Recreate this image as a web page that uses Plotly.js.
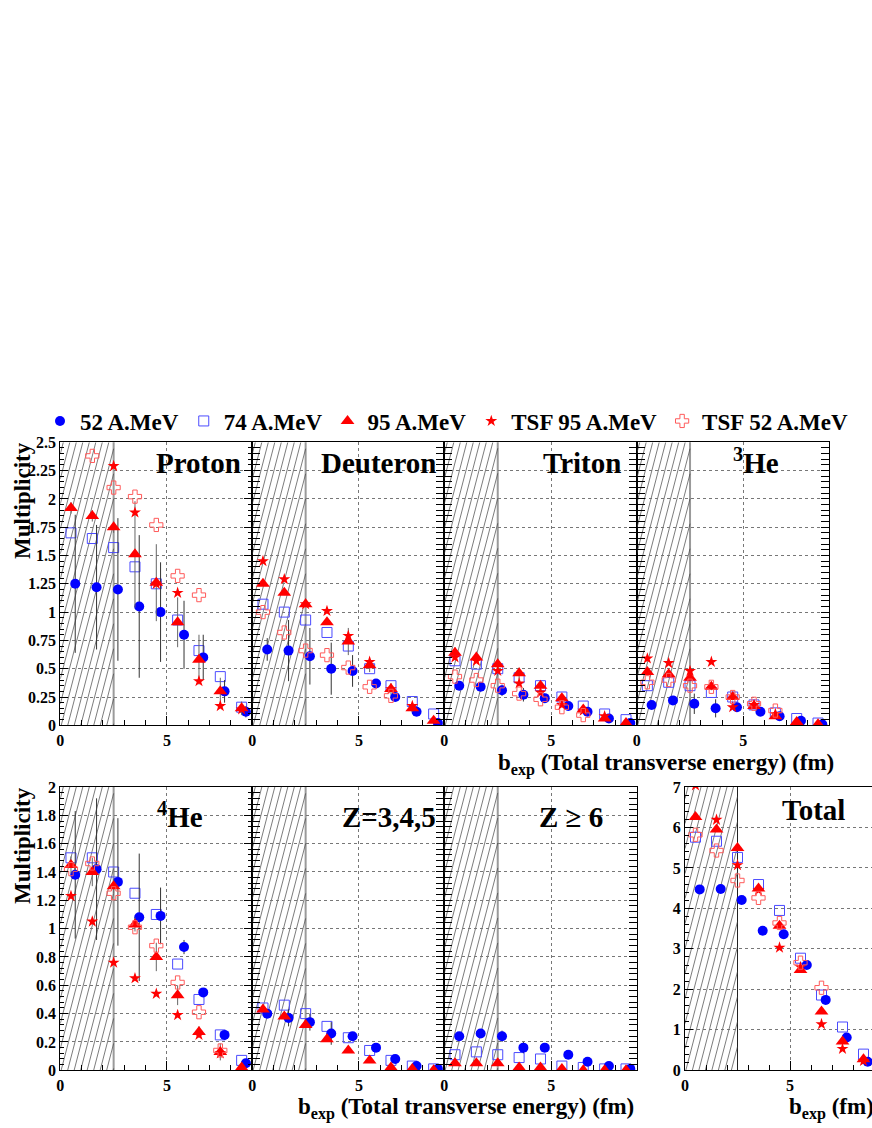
<!DOCTYPE html>
<html>
<head>
<meta charset="utf-8">
<script src="https://cdn.plot.ly/plotly-3.0.1.min.js"></script>
<style>html,body{margin:0;padding:0;background:#fff;}#chart{width:872px;height:1128px;}</style>
</head>
<body>
<div id="chart"></div>
<script>
// ---------------- DATA ----------------
const bins   = [0.5, 1.5, 2.5, 3.5, 4.5, 5.5, 6.5, 7.5, 8.5];
const bins52 = [0.7, 1.7, 2.7, 3.7, 4.7, 5.8, 6.7, 7.7, 8.7];

const seriesNames = ['52 A.MeV', '74 A.MeV', '95 A.MeV', 'TSF 95 A.MeV', 'TSF 52 A.MeV'];
const panelLabels = ['Proton', 'Deuteron', 'Triton', '<sup>3</sup>He', '<sup>4</sup>He', 'Z=3,4,5', 'Z \u2265 6', 'Total'];
const xTitle = 'b<sub>exp</sub> (Total transverse energy) (fm)';
const xTitleTotal = 'b<sub>exp</sub> (fm)';
const yTitle = 'Multiplicity';
const topTicks = [0, 5];

// Proton
const proton52    = [1.25, 1.22, 1.20, 1.05, 1.00, 0.80, 0.60, 0.30, 0.12];
const proton52err = [0.61, 0.55, 0.63, 0.63, 0.44, 0.30, 0.20, 0.10, 0.05];
const proton74    = [1.70, 1.65, 1.57, 1.40, 1.25, 0.93, 0.66, 0.43, 0.16];
const proton95    = [1.92, 1.85, 1.75, 1.51, 1.26, 0.91, 0.58, 0.30, 0.15];
const proton95err = [0.05, 0.05, 0.05, 0.47, 0.34, 0.22, 0.22, 0.12, 0.06];
const protonT95   = [null, null, 2.29, 1.88, 1.25, 1.17, 0.39, 0.17, 0.14];
const protonT52   = [null, 2.38, 2.10, 2.02, 1.77, 1.32, 1.15, null, null];
// Deuteron
const deut52      = [0.67, 0.66, 0.61, 0.50, 0.48, 0.37, 0.25, 0.12, 0.02];
const deut52err   = [0.10, 0.27, 0.25, 0.23, 0.14, 0.03, 0.02, 0.02, 0.01];
const deut74      = [1.07, 1.00, 0.93, 0.82, 0.70, 0.50, 0.35, 0.21, 0.10];
const deut95      = [1.25, 1.17, 1.07, 0.91, 0.74, 0.53, 0.32, 0.15, 0.04];
const deut95err   = [0.02, 0.02, 0.02, 0.02, 0.12, 0.06, 0.05, 0.03, 0.01];
const deutT95     = [1.45, 1.29, 1.07, 1.01, 0.79, 0.56, 0.32, 0.17, null];
const deutT52     = [1.00, 0.82, 0.66, 0.62, 0.51, 0.34, 0.26, null, null];
// Triton
const trit52      = [0.35, 0.34, 0.31, 0.27, 0.24, 0.17, 0.12, 0.06, 0.02];
const trit52err   = [0.04, 0.04, 0.05, 0.06, 0.04, 0.03, 0.02, 0.01, 0.01];
const trit74      = [0.57, 0.54, 0.50, 0.42, 0.35, 0.25, 0.17, 0.10, 0.05];
const trit95      = [0.64, 0.60, 0.54, 0.46, 0.35, 0.24, 0.14, 0.06, 0.02];
const trit95err   = [0.05, 0.05, 0.05, 0.05, 0.04, 0.03, 0.02, 0.01, 0.00];
const tritT95     = [0.60, 0.57, 0.48, 0.37, 0.29, 0.18, 0.13, 0.08, null];
const tritT52     = [0.43, 0.40, 0.35, 0.28, 0.23, 0.16, 0.09, null, null];
// 3He
const he3_52      = [0.18, 0.22, 0.19, 0.15, 0.16, 0.12, 0.08, 0.04, 0.01];
const he3_52err   = [0.03, 0.03, 0.09, 0.08, 0.04, 0.03, 0.02, 0.01, 0.01];
const he3_74      = [0.35, 0.38, 0.35, 0.29, 0.25, 0.18, 0.11, 0.06, 0.02];
const he3_95      = [0.47, 0.45, 0.42, 0.34, 0.25, 0.17, 0.08, 0.03, 0.01];
const he3_95err   = [0.03, 0.03, 0.03, 0.03, 0.03, 0.02, 0.02, 0.01, 0.00];
const he3_T95     = [0.59, 0.55, 0.48, 0.56, 0.16, 0.18, 0.10, null, null];
const he3_T52     = [0.38, 0.40, 0.35, 0.34, 0.25, 0.19, 0.13, null, null];
// 4He
const he4_52      = [1.38, 1.42, 1.33, 1.08, 1.09, 0.87, 0.55, 0.25, 0.05];
const he4_52err   = [0.45, 0.50, 0.45, 0.45, 0.20, 0.05, 0.03, 0.02, 0.01];
const he4_74      = [1.50, 1.50, 1.40, 1.25, 1.10, 0.75, 0.50, 0.25, 0.07];
const he4_95      = [1.45, 1.40, 1.30, 1.03, 0.80, 0.53, 0.27, 0.13, 0.02];
const he4_95err   = [0.06, 0.10, 0.05, 0.05, 0.10, 0.07, 0.04, 0.06, 0.02];
const he4_T95     = [1.23, 1.05, 0.76, 0.65, 0.54, 0.39, 0.25, 0.12, null];
const he4_T52     = [1.42, 1.46, 1.25, 1.01, 0.88, 0.62, 0.41, 0.14, null];
// Z=3,4,5
const z345_52     = [0.40, 0.37, 0.34, 0.26, 0.24, 0.16, 0.08, 0.03, 0.01];
const z345_52err  = [0.03, 0.06, 0.06, 0.08, 0.03, 0.02, 0.01, 0.01, 0.00];
const z345_74     = [0.44, 0.46, 0.40, 0.31, 0.23, 0.14, 0.07, 0.03, 0.01];
const z345_95     = [0.43, 0.38, 0.32, 0.22, 0.14, 0.07, 0.02, 0.01, 0.00];
// Z>=6
const z6_52       = [0.24, 0.26, 0.24, 0.16, 0.16, 0.11, 0.06, 0.03, 0.01];
const z6_52err    = [0.02, 0.03, 0.04, 0.04, 0.02, 0.02, 0.02, 0.01, 0.00];
const z6_74       = [0.11, 0.13, 0.11, 0.09, 0.08, 0.03, 0.02, 0.01, 0.01];
const z6_95       = [0.05, 0.05, 0.05, 0.02, 0.02, 0.01, 0.00, 0.00, 0.00];
// Total
const total52     = [4.47, 4.48, 4.21, 3.45, 3.36, 2.60, 1.74, 0.81, 0.21];
const total74     = [5.76, 5.66, 5.26, 4.59, 3.95, 2.77, 1.86, 1.07, 0.40];
const total95     = [6.26, 5.95, 5.49, 4.49, 3.57, 2.48, 1.45, 0.71, 0.27];
const totalT95    = [7.04, 6.19, 5.07, 4.45, 3.03, 2.55, 1.14, 0.53, 0.23];
const totalT52    = [5.82, 5.43, 4.69, 4.26, 3.64, 2.66, 2.04, null, null];

// ---------------- LAYOUT HELPERS ----------------
const FONT = '"Liberation Serif", "Times New Roman", serif';
const W = 872, H = 1128;
const fx = v => v / W;
const fy = v => 1 - v / H;

const TOP = {y0: 442.3, y1: 725.3};
const BOT = {y0: 787.0, y1: 1070.3};

const panels = [
  {xa:'x',  ya:'y',  x0:60.3,  x1:252.3, xmax:9, row:TOP, ymax:2.5, label:panelLabels[0],
   d:[proton52, proton74, proton95, protonT95, protonT52], e52:proton52err, e95:proton95err},
  {xa:'x2', ya:'y',  x0:252.3, x1:444.3, xmax:9, row:TOP, ymax:2.5, label:panelLabels[1],
   d:[deut52, deut74, deut95, deutT95, deutT52], e52:deut52err, e95:deut95err},
  {xa:'x3', ya:'y',  x0:444.3, x1:636.7, xmax:9, row:TOP, ymax:2.5, label:panelLabels[2],
   d:[trit52, trit74, trit95, tritT95, tritT52], e52:trit52err, e95:trit95err},
  {xa:'x4', ya:'y',  x0:636.7, x1:828.7, xmax:9, row:TOP, ymax:2.5, label:panelLabels[3],
   d:[he3_52, he3_74, he3_95, he3_T95, he3_T52], e52:he3_52err, e95:he3_95err},
  {xa:'x5', ya:'y2', x0:60.3,  x1:252.3, xmax:9, row:BOT, ymax:2, label:panelLabels[4],
   d:[he4_52, he4_74, he4_95, he4_T95, he4_T52], e52:he4_52err, e95:he4_95err},
  {xa:'x6', ya:'y2', x0:252.3, x1:444.3, xmax:9, row:BOT, ymax:2, label:panelLabels[5],
   d:[z345_52, z345_74, z345_95, null, null], e52:z345_52err, e95:null},
  {xa:'x7', ya:'y2', x0:444.3, x1:636.7, xmax:9, row:BOT, ymax:2, label:panelLabels[6],
   d:[z6_52, z6_74, z6_95, null, null], e52:z6_52err, e95:null},
  {xa:'x8', ya:'y3', x0:685.0, x1:872.0, xmax:187/21, row:BOT, ymax:7, label:panelLabels[7],
   d:[total52, total74, total95, totalT95, totalT52], e52:null, e95:null}
];

const styles = [
  {symbol:'circle',      color:'#0000ff', size:10, line:{width:0}},
  {symbol:'square-open', color:'#4b4bff', size:10, line:{width:1, color:'#4b4bff'}},
  {symbol:'triangle-up', color:'#ff0000', size:12, line:{width:0}},
  {symbol:'star',        color:'#ff0000', size:9,  line:{width:0}},
  {symbol:'cross-open',  color:'#ff5a5a', size:11, line:{width:1, color:'#ff5a5a'}}
];
const drawOrder = [1, 0, 2, 3, 4];

const traces = [];
panels.forEach((p, pi) => {
  drawOrder.forEach(si => {
    const vals = p.d[si];
    if (!vals) return;
    const tr = {
      type:'scatter', mode:'markers', name:seriesNames[si],
      x: si === 0 ? bins52 : bins, y: vals,
      xaxis:p.xa, yaxis:p.ya,
      legendgroup:'s'+si, legendrank: si+1, showlegend: pi === 0,
      marker:Object.assign({}, styles[si]),
      cliponaxis:true, hoverinfo:'skip'
    };
    const err = si === 0 ? p.e52 : (si === 2 ? p.e95 : null);
    if (err) tr.error_y = {type:'data', array:err, visible:true, color: si===0 ? '#333333' : '#666666', thickness:1, width:0};
    traces.push(tr);
  });
});

// hatch geometry
function hatchPath(ppu, hpx, ymax) {
  const Wd = 2.5 * ppu, s = 0.26, step = 6.5;
  let d = '';
  for (let c = -s * hpx + 3; c < Wd; c += step) {
    let xa = c, ya = 0, xb = c + s * hpx, yb = hpx;
    if (xa < 0) { ya = -xa / s; xa = 0; }
    if (xb > Wd) { yb = (Wd - c) / s; xb = Wd; }
    if (yb <= ya) continue;
    d += 'M' + (xa/ppu).toFixed(4) + ',' + (ya/hpx*ymax).toFixed(4) +
         'L' + (xb/ppu).toFixed(4) + ',' + (yb/hpx*ymax).toFixed(4);
  }
  return d;
}

const tickFont = {family:FONT, size:16, weight:'bold', color:'#000'};
const layout = {
  width:W, height:H, margin:{l:0, r:0, t:0, b:0},
  paper_bgcolor:'#fff', plot_bgcolor:'rgba(0,0,0,0)',
  font:{family:FONT, weight:'bold', color:'#000'},
  showlegend:true,
  legend:{orientation:'h', x:fx(40), xanchor:'left', y:fy(421), yanchor:'middle',
          font:{family:FONT, size:23, weight:'bold', color:'#000'}, bgcolor:'rgba(0,0,0,0)', traceorder:'normal'},
  shapes:[], annotations:[]
};

panels.forEach((p, pi) => {
  const key = p.xa === 'x' ? 'xaxis' : 'xaxis' + p.xa.slice(1);
  layout[key] = {
    domain:[fx(p.x0), fx(p.x1)], anchor:p.ya, range:[0, p.xmax],
    tickmode:'array', tickvals:topTicks, ticks:'inside', ticklen:9, tickwidth:1, tickcolor:'#000',
    minor:{dtick:1, tick0:0, ticks:'inside', ticklen:5, tickcolor:'#000', showgrid:false},
    showline:true, linecolor:'#000', linewidth:1, mirror:true,
    showgrid:true, gridcolor:'#777', griddash:'dot', gridwidth:1, zeroline:false,
    tickfont:tickFont, fixedrange:true
  };
  const ppu = (p.x1 - p.x0) / p.xmax;
  const hpx = p.row.y1 - p.row.y0;
  layout.shapes.push({type:'path', xref:p.xa, yref:p.ya, path:hatchPath(ppu, hpx, p.ymax),
                      line:{color:'#444', width:0.7}, layer:'below'});
  layout.shapes.push({type:'line', xref:p.xa, yref:p.ya + ' domain', x0:2.5, x1:2.5, y0:0, y1:1,
                      line:{color: pi === 7 ? '#222' : '#9a9a9a', width: pi === 7 ? 1 : 2}, layer:'below'});
});

const yBase = {showline:true, linecolor:'#000', linewidth:1, ticks:'inside', tickwidth:1, tickcolor:'#000', ticklen:8,
  showgrid:true, gridcolor:'#777', griddash:'dot', gridwidth:1, zeroline:false, tickfont:tickFont, fixedrange:true};
layout.yaxis  = Object.assign({}, yBase, {domain:[fy(TOP.y1), fy(TOP.y0)], anchor:'x',  range:[0, 2.5], dtick:0.25, tick0:0,
  mirror:'allticks', minor:{dtick:0.05, ticks:'inside', ticklen:4, tickcolor:'#000', showgrid:false}});
layout.yaxis2 = Object.assign({}, yBase, {domain:[fy(BOT.y1), fy(BOT.y0)], anchor:'x5', range:[0, 2], dtick:0.2, tick0:0,
  mirror:'allticks', minor:{dtick:0.04, ticks:'inside', ticklen:4, tickcolor:'#000', showgrid:false}});
layout.yaxis3 = Object.assign({}, yBase, {domain:[fy(BOT.y1), fy(BOT.y0)], anchor:'x8', range:[0, 7], dtick:1, tick0:0,
  mirror:false, minor:{dtick:0.2, ticks:'inside', ticklen:4, tickcolor:'#000', showgrid:false}});

// panel labels
const labelPos = [
  {x:243, y:463, a:'right'}, {x:438, y:463, a:'right'}, {x:623, y:463, a:'right'}, {x:756, y:461, a:'center'},
  {x:180, y:815, a:'center'}, {x:438, y:817, a:'right'}, {x:605, y:817, a:'right'}, {x:847, y:810, a:'right'}
];
panels.forEach((p, i) => {
  layout.annotations.push({xref:'paper', yref:'paper', x:fx(labelPos[i].x), y:fy(labelPos[i].y),
    xanchor:labelPos[i].a, yanchor:'middle', showarrow:false, text:p.label,
    font:{family:FONT, size:29, weight:'bold', color:'#000'}});
});
// axis titles
const titleFont = {family:FONT, size:23, weight:'bold', color:'#000'};
layout.annotations.push({xref:'paper', yref:'paper', x:fx(836), y:fy(764), xanchor:'right', yanchor:'middle',
  showarrow:false, text:xTitle, font:titleFont});
layout.annotations.push({xref:'paper', yref:'paper', x:fx(636), y:fy(1108), xanchor:'right', yanchor:'middle',
  showarrow:false, text:xTitle, font:titleFont});
layout.annotations.push({xref:'paper', yref:'paper', x:fx(787), y:fy(1108), xanchor:'left', yanchor:'middle',
  showarrow:false, text:xTitleTotal, font:titleFont});
layout.annotations.push({xref:'paper', yref:'paper', x:fx(22), y:fy(501), xanchor:'center', yanchor:'middle',
  showarrow:false, text:yTitle, textangle:-90, font:titleFont});
layout.annotations.push({xref:'paper', yref:'paper', x:fx(22), y:fy(846), xanchor:'center', yanchor:'middle',
  showarrow:false, text:yTitle, textangle:-90, font:titleFont});

Plotly.newPlot('chart', traces, layout, {staticPlot:true, displayModeBar:false});
</script>
</body>
</html>
